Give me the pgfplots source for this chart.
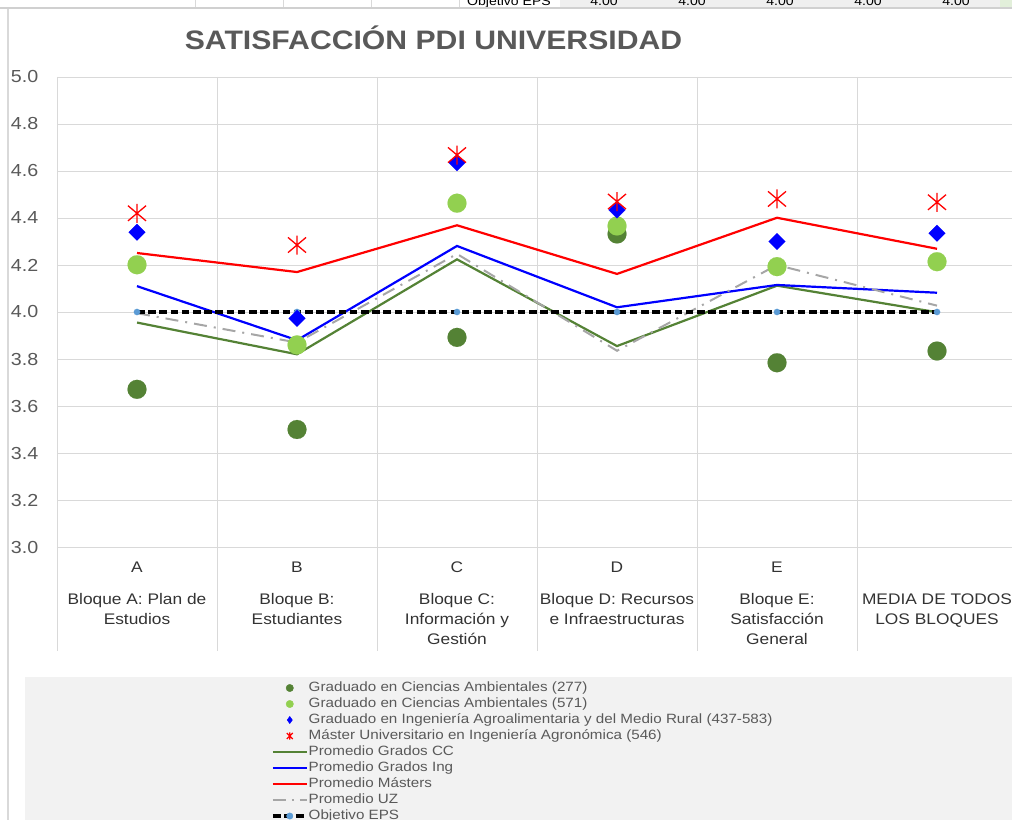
\documentclass[border=0pt]{standalone}
\usepackage{pgfplots}
\pgfplotsset{compat=1.18}
\usepackage{fontspec}
\setmainfont{Liberation Sans}[FakeStretch=1.13]
\definecolor{cdark}{HTML}{548235}
\definecolor{clight}{HTML}{92D050}
\definecolor{cblue}{HTML}{0000FF}
\definecolor{cred}{HTML}{FF0000}
\definecolor{cgray}{HTML}{A6A6A6}
\definecolor{cobj}{HTML}{5B9BD5}
\definecolor{cgrid}{HTML}{D9D9D9}
\definecolor{ctxt}{HTML}{595959}
\definecolor{clab}{HTML}{333333}
\definecolor{clegbg}{HTML}{F2F2F2}
\definecolor{ccell}{HTML}{EFEFEF}
\definecolor{ccellg}{HTML}{E2EFDA}
\definecolor{cline}{HTML}{D0D0D0}
\pgfdeclareplotmark{xlstar}{%
 \pgfpathmoveto{\pgfqpoint{0pt}{\pgfplotmarksize}}\pgfpathlineto{\pgfqpoint{0pt}{-\pgfplotmarksize}}%
 \pgfpathmoveto{\pgfqpoint{-.95\pgfplotmarksize}{.8\pgfplotmarksize}}\pgfpathlineto{\pgfqpoint{.95\pgfplotmarksize}{-.8\pgfplotmarksize}}%
 \pgfpathmoveto{\pgfqpoint{-.95\pgfplotmarksize}{-.8\pgfplotmarksize}}\pgfpathlineto{\pgfqpoint{.95\pgfplotmarksize}{.8\pgfplotmarksize}}%
 \pgfusepathqstroke}
\begin{document}
\begin{tikzpicture}
\path[use as bounding box] (0,0) rectangle (1012bp,820bp);
\clip (0,0) rectangle (1012bp,820bp);
\begin{scope}[x=1bp,y=1bp]
% spreadsheet strip at top
\fill[ccell] (560,811) rectangle (1000,820);
\fill[ccellg] (1000,811) rectangle (1012,820);
\foreach \xx in {195,283,371,459} \draw[cgrid,line width=1bp] (\xx,811) -- (\xx,820);
\foreach \xx in {648,737,824,912} \draw[cgrid,line width=1bp] (\xx,811) -- (\xx,813);
\node[anchor=base west,inner sep=0pt,font=\fontsize{12.5}{14}\selectfont] at (467,814) {Objetivo EPS};
\foreach \xx in {604,692,780,868,956} \node[anchor=base,inner sep=0pt,font=\fontsize{12.5}{14}\selectfont] at (\xx,814) {4.00};
\draw[cline,line width=2bp] (0,811.5) -- (1012,811.5);
\draw[cgrid,line width=1.3bp] (8,0) -- (8,811);
% legend background
\fill[clegbg] (25,0) rectangle (1012,143);
% category separators
\foreach \k in {0,...,5} \draw[cgrid,line width=0.9bp] (57+160*\k,743) -- (57+160*\k,169);
% title
\node[anchor=base,inner sep=0pt,text=ctxt,font=\bfseries\fontsize{26.8}{30}\selectfont] at (433.5,770.5) {SATISFACCIÓN PDI UNIVERSIDAD};
\end{scope}
\begin{axis}[
  at={(57bp,273bp)}, anchor=south west,
  scale only axis, width=955bp, height=470bp,
  xmin=-0.5, xmax=5.46875, ymin=3, ymax=5,
  axis line style={draw=none},
  major tick length=0pt,
  ytick={3.0,3.2,3.4,3.6,3.8,4.0,4.2,4.4,4.6,4.8,5.0},
  ymajorgrids, grid style={cgrid, line width=0.9bp},
  /pgf/number format/assume math mode=true,
  yticklabel style={/pgf/number format/.cd, fixed, fixed zerofill, precision=1, /tikz/.cd, inner sep=0pt, xshift=-18.5bp, text=ctxt, font=\fontsize{17.5}{20}\selectfont},
  xtick={0,1,2,3,4,5},
  xticklabels={
    {A\\[12bp]Bloque A: Plan de\\Estudios},
    {B\\[12bp]Bloque B:\\Estudiantes},
    {C\\[12bp]Bloque C:\\Información y\\Gestión},
    {D\\[12bp]Bloque D: Recursos\\e Infraestructuras},
    {E\\[12bp]Bloque E:\\Satisfacción\\General},
    {\phantom{A}\\[12bp]MEDIA DE TODOS\\LOS BLOQUES}},
  xticklabel style={anchor=north, inner sep=0pt, yshift=-15bp, align=center, text=clab, font=\fontsize{15.4}{20}\selectfont},
  legend cell align=left,
  legend style={draw=none, fill=none, inner sep=0pt, outer sep=0pt,
    at={(0.2241,-0.2830)}, anchor=north west, row sep=0pt, column sep=0pt,
    nodes={inner xsep=0.2bp, inner ysep=0pt, text height=11bp, text depth=5bp, text=ctxt, font=\fontsize{13.5}{16}\selectfont}},
  clip=false,
]
% lines (drawn first, as in the original)
\addplot[cdark, line width=2.2bp, forget plot] coordinates {(0,3.955)(1,3.82)(2,4.224)(3,3.855)(4,4.112)(5,3.999)};
\addplot[cblue, line width=2.2bp, forget plot] coordinates {(0,4.11)(1,3.88)(2,4.281)(3,4.02)(4,4.115)(5,4.082)};
\addplot[cred, line width=2.2bp, forget plot] coordinates {(0,4.251)(1,4.17)(2,4.369)(3,4.162)(4,4.401)(5,4.269)};
\addplot[cgray, line width=2bp, dash pattern=on 13bp off 7bp on 2bp off 7bp, forget plot] coordinates {(0,3.995)(1,3.87)(2,4.247)(3,3.835)(4,4.20)(5,4.027)};
\addplot[black, line width=3.8bp, dash pattern=on 7.5bp off 3.7bp, forget plot] coordinates {(0,4)(1,4)(2,4)(3,4)(4,4)(5,4)};
\addplot[only marks, mark=*, mark size=3.2bp, mark options={solid, fill=cobj, draw=cobj, line width=0.1bp}, forget plot] coordinates {(0,4)(1,4)(2,4)(3,4)(4,4)(5,4)};
% markers
\addplot[only marks, mark=*, mark size=9.5bp, mark options={fill=cdark, draw=cdark, line width=0.1bp}, forget plot] coordinates {(0,3.671)(1,3.50)(2,3.892)(3,4.332)(4,3.784)(5,3.834)};
\addplot[only marks, mark=*, mark size=9.5bp, mark options={fill=clight, draw=clight, line width=0.1bp}, forget plot] coordinates {(0,4.201)(1,3.86)(2,4.463)(3,4.366)(4,4.193)(5,4.214)};
\addplot[only marks, mark=square*, mark size=5.9bp, mark options={fill=cblue, draw=cblue, line width=0.1bp, rotate=45}, forget plot] coordinates {(0,4.339)(1,3.973)(2,4.635)(3,4.434)(4,4.30)(5,4.335)};
\addplot[only marks, mark=xlstar, mark size=9.5bp, mark options={draw=cred, line width=1.3bp}, forget plot] coordinates {(0,4.42)(1,4.285)(2,4.668)(3,4.47)(4,4.481)(5,4.467)};
% legend
\addlegendimage{legend image code/.code={\fill[cdark] (17bp,0bp) circle (3.7bp);}}
\addlegendentry{Graduado en Ciencias Ambientales (277)}
\addlegendimage{legend image code/.code={\fill[clight] (17bp,0bp) circle (3.7bp);}}
\addlegendentry{Graduado en Ciencias Ambientales (571)}
\addlegendimage{legend image code/.code={\fill[cblue] (17bp,3.6bp) -- (19.6bp,0bp) -- (17bp,-3.6bp) -- (14.4bp,0bp) -- cycle;}}
\addlegendentry{Graduado en Ingeniería Agroalimentaria y del Medio Rural (437-583)}
\addlegendimage{legend image code/.code={\draw[cred, line width=1.2bp] (17bp,-3.6bp)--(17bp,3.6bp) (14bp,-3bp)--(20bp,3bp) (14bp,3bp)--(20bp,-3bp);}}
\addlegendentry{Máster Universitario en Ingeniería Agronómica (546)}
\addlegendimage{legend image code/.code={\draw[cdark, line width=2.2bp] (0bp,0bp) -- (34bp,0bp);}}
\addlegendentry{Promedio Grados CC}
\addlegendimage{legend image code/.code={\draw[cblue, line width=2.2bp] (0bp,0bp) -- (34bp,0bp);}}
\addlegendentry{Promedio Grados Ing}
\addlegendimage{legend image code/.code={\draw[cred, line width=2.2bp] (0bp,0bp) -- (34bp,0bp);}}
\addlegendentry{Promedio Másters}
\addlegendimage{legend image code/.code={\draw[cgray, line width=2bp, dash pattern=on 13bp off 6bp on 2bp off 6bp] (0bp,0bp) -- (34bp,0bp);}}
\addlegendentry{Promedio UZ}
\addlegendimage{legend image code/.code={\draw[black, line width=3.5bp, dash pattern=on 8bp off 3.5bp] (0bp,0bp) -- (34bp,0bp); \fill[cobj] (17bp,0bp) circle (3.2bp);}}
\addlegendentry{Objetivo EPS}
\end{axis}
\end{tikzpicture}
\end{document}
